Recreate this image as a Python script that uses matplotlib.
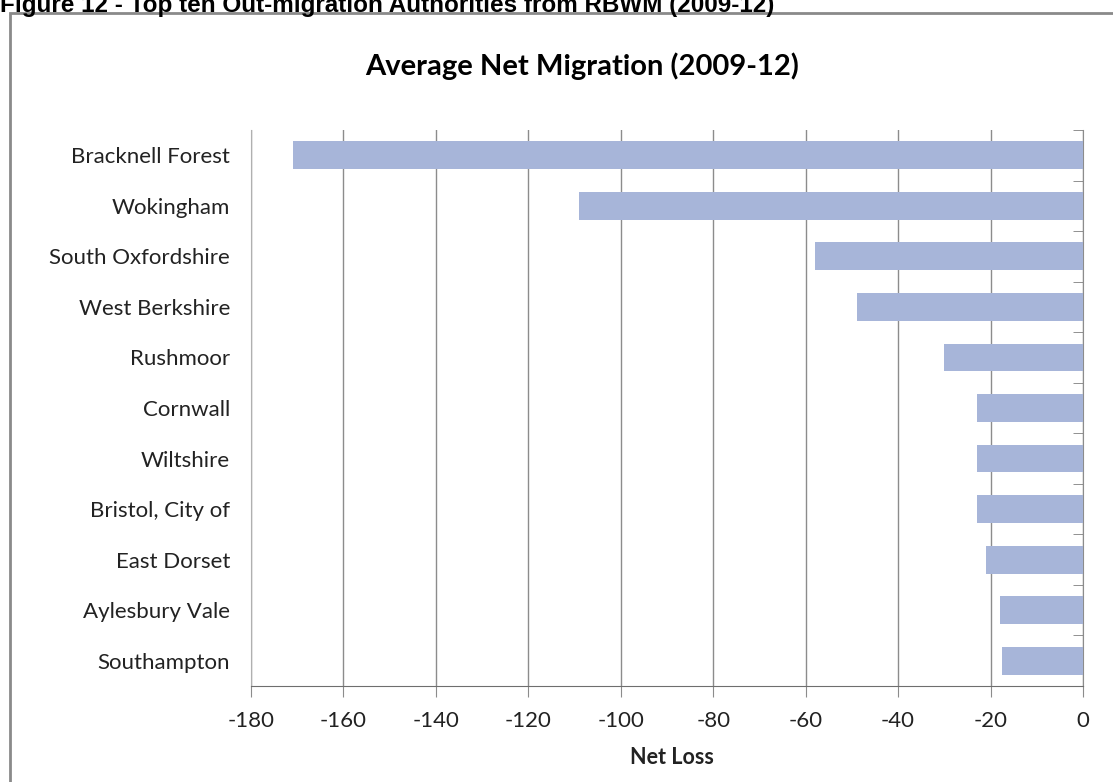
import matplotlib
matplotlib.use("Agg")
import matplotlib.pyplot as plt
from matplotlib.patches import Rectangle

# top ten out-migration authorities, average net loss 2009-12
areas = ["Bracknell Forest", "Wokingham", "South Oxfordshire", "West Berkshire",
         "Rushmoor", "Cornwall", "Wiltshire", "Bristol, City of", "East Dorset",
         "Aylesbury Vale", "Southampton"]
net_loss = [-171, -109, -58, -49, -30, -23, -23, -23, -21, -18, -17.5]
xticks = [-180, -160, -140, -120, -100, -80, -60, -40, -20, 0]

W, H = 1113, 782
fig = plt.figure(figsize=(W / 100, H / 100), dpi=100)
fig.patch.set_facecolor("white")

# chart frame
fig.patches.append(Rectangle((10 / W, -0.1), 1.2, (H - 13) / H + 0.1,
                             transform=fig.transFigure, fill=False,
                             edgecolor="#8a8a8a", linewidth=2))

fig.text(0, 1 - 12 / H, "Figure 12 - Top ten Out-migration Authorities from RBWM (2009-12)",
         family="Liberation Sans", weight="bold", fontsize=17.5,
         va="baseline", ha="left", color="black")

fig.text(582 / W, 1 - 75 / H, "Average Net Migration (2009-12)",
         family="Lato", weight="bold", fontsize=21, ha="center", va="baseline",
         color="black")

ax = fig.add_axes([251 / W, 1 - 686 / H, 832 / W, 556 / H])
ypos = list(range(len(areas)))
ax.barh(ypos, net_loss, height=0.55, color="#A7B5D9", zorder=3)

ax.set_xlim(-180, 0)
ax.set_ylim(len(areas) - 0.5, -0.5)
ax.set_xticks(xticks)
ax.set_xticklabels([str(v) for v in xticks], family="Lato", fontsize=16, color="#222222")
ax.set_yticks(ypos)
ax.set_yticklabels(areas, family="Lato", fontsize=16, color="#222222")
ax.set_yticks([i - 0.5 for i in range(len(areas) + 1)], minor=True)

ax.grid(axis="x", color="#8c8c8c", linewidth=1, zorder=0)
ax.tick_params(axis="y", which="major", length=0, pad=15)
ax.tick_params(axis="y", which="minor", left=False, right=True, direction="in",
               length=7, color="#7f7f7f")
ax.tick_params(axis="x", length=8, color="#8c8c8c", pad=10)

ax.spines["top"].set_visible(False)
ax.spines["left"].set_color("#b0b0b0")
ax.spines["right"].set_color("#8c8c8c")
ax.spines["bottom"].set_color("#6e6e6e")

ax.set_xlabel("Net Loss", family="Lato", weight="bold", fontsize=15.5,
              color="#222222", va="center")
ax.xaxis.set_label_coords((672 - 251) / 832, -(757 - 686) / 556)

fig.savefig("out.png", dpi=100)
